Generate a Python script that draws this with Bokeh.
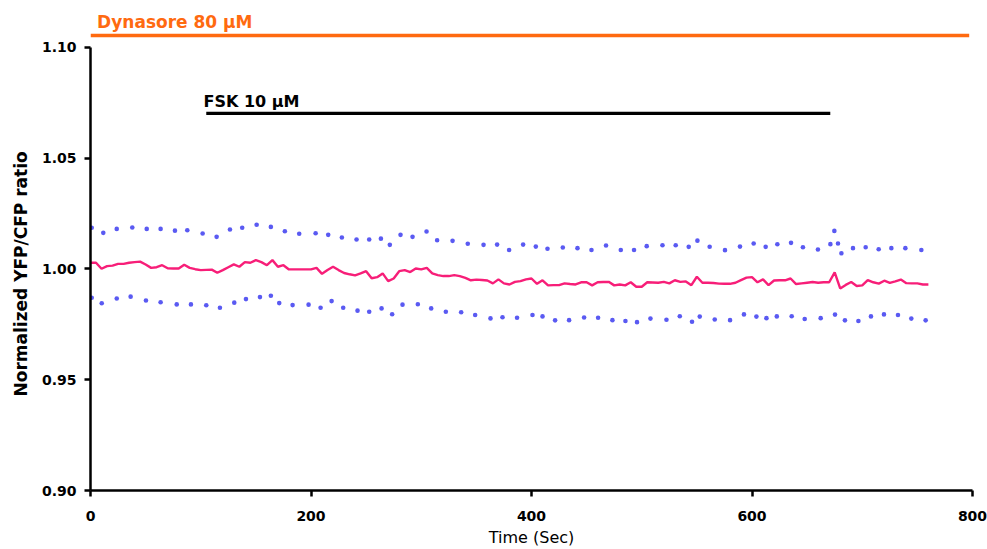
from bokeh.plotting import figure
from bokeh.models import Range1d, FixedTicker, PrintfTickFormatter, Label, Title
from bokeh.embed import file_html
from bokeh.resources import INLINE

# ---------------- data ----------------
time_s = [0, 5, 10, 15, 20, 25, 30, 35, 40, 45, 50, 55, 60, 65, 70, 75, 80, 85, 90, 95,
          100, 105, 110, 115, 120, 125, 130, 135, 140, 145, 150, 155, 160, 165, 170, 175, 180, 185, 190, 195,
          200, 205, 210, 215, 220, 225, 230, 235, 240, 245, 250, 255, 260, 265, 270, 275, 280, 285, 290, 295,
          300, 305, 310, 315, 320, 325, 330, 335, 340, 345, 350, 355, 360, 365, 370, 375, 380, 385, 390, 395,
          400, 405, 410, 415, 420, 425, 430, 435, 440, 445, 450, 455, 460, 465, 470, 475, 480, 485, 490, 495,
          500, 505, 510, 515, 520, 525, 530, 535, 540, 545, 550, 555, 560, 565, 570, 575, 580, 585, 590, 595,
          600, 605, 610, 615, 620, 625, 630, 635, 640, 645, 650, 655, 660, 665, 670, 675, 680, 685, 690, 695,
          700, 705, 710, 715, 720, 725, 730, 735, 740, 745, 750, 755, 760]

mean_ratio = [1.0028, 1.0028, 1.0001, 1.0013, 1.0015, 1.0023, 1.0023, 1.0028, 1.0031, 1.0033,
              1.0020, 1.0005, 1.0008, 1.0017, 1.0003, 1.0002, 1.0002, 1.0019, 1.0005, 0.9999,
              0.9995, 0.9996, 0.9997, 0.9983, 0.9995, 1.0008, 1.0021, 1.0010, 1.0031, 1.0028,
              1.0040, 1.0031, 1.0017, 1.0040, 1.0010, 1.0017, 0.9998, 0.9998, 0.9998, 0.9998,
              0.9998, 1.0005, 0.9978, 0.9995, 1.0010, 0.9995, 0.9982, 0.9976, 0.9971, 0.9980,
              0.9990, 0.9958, 0.9963, 0.9980, 0.9945, 0.9957, 0.9990, 0.9995, 0.9986, 1.0002,
              0.9998, 1.0005, 0.9980, 0.9972, 0.9968, 0.9968, 0.9972, 0.9968, 0.9960, 0.9949,
              0.9952, 0.9950, 0.9948, 0.9935, 0.9953, 0.9935, 0.9930, 0.9942, 0.9945, 0.9953,
              0.9957, 0.9933, 0.9949, 0.9926, 0.9927, 0.9927, 0.9935, 0.9932, 0.9930, 0.9940,
              0.9940, 0.9926, 0.9940, 0.9941, 0.9942, 0.9926, 0.9930, 0.9926, 0.9940, 0.9920,
              0.9920, 0.9940, 0.9939, 0.9938, 0.9942, 0.9935, 0.9949, 0.9942, 0.9944, 0.9927,
              0.9965, 0.9938, 0.9938, 0.9937, 0.9934, 0.9933, 0.9933, 0.9938, 0.9950, 0.9961,
              0.9963, 0.9940, 0.9953, 0.9927, 0.9948, 0.9949, 0.9949, 0.9957, 0.9932, 0.9935,
              0.9938, 0.9941, 0.9938, 0.9940, 0.9940, 0.9985, 0.9912, 0.9928, 0.9941, 0.9923,
              0.9926, 0.9950, 0.9940, 0.9934, 0.9947, 0.9937, 0.9944, 0.9952, 0.9936, 0.9935,
              0.9935, 0.9930, 0.9930]

upper_t = [1.1, 11.6, 23.8, 37.9, 51.0, 63.6, 76.6, 87.8, 101.7, 114.4, 126.5, 137.6, 150.7,
           163.6, 176.3, 189.3, 204.2, 215.6, 228.0, 241.3, 252.8, 263.4, 271.5, 281.2, 292.1,
           304.8, 314.4, 328.4, 342.2, 356.5, 368.8, 379.7, 392.4, 403.9, 414.5, 428.4, 441.7,
           454.4, 467.6, 481.0, 493.0, 504.5, 518.8, 530.8, 542.6, 550.5, 561.6, 575.5, 589.1,
           601.5, 612.4, 623.0, 635.4, 646.2, 659.8, 671.1, 674.7, 678.0, 681.1, 691.6, 703.1,
           714.9, 726.4, 739.1, 753.6]
upper_v = [1.0186, 1.0163, 1.0181, 1.0187, 1.0181, 1.0181, 1.0173, 1.0175, 1.0160, 1.0145,
           1.0178, 1.0186, 1.0200, 1.0190, 1.0170, 1.0159, 1.0161, 1.0154, 1.0142, 1.0133,
           1.0133, 1.0137, 1.0109, 1.0154, 1.0145, 1.0169, 1.0130, 1.0127, 1.0114, 1.0109,
           1.0110, 1.0086, 1.0110, 1.0101, 1.0091, 1.0097, 1.0094, 1.0086, 1.0106, 1.0086,
           1.0086, 1.0103, 1.0107, 1.0107, 1.0100, 1.0128, 1.0100, 1.0085, 1.0101, 1.0115,
           1.0100, 1.0112, 1.0118, 1.0098, 1.0088, 1.0112, 1.0172, 1.0115, 1.0071, 1.0094,
           1.0098, 1.0089, 1.0094, 1.0094, 1.0086]

lower_t = [1.1, 10.2, 23.8, 36.4, 50.3, 63.6, 78.2, 91.1, 105.0, 117.4, 130.4, 141.0, 153.7,
           163.6, 171.2, 183.3, 197.8, 208.7, 218.7, 229.2, 242.2, 252.8, 264.0, 273.6, 283.0,
           296.9, 309.0, 322.3, 336.2, 348.9, 362.8, 373.7, 386.9, 400.9, 410.0, 421.4, 434.1,
           447.7, 460.4, 473.4, 485.2, 495.7, 507.9, 522.4, 534.5, 545.6, 552.6, 566.2, 580.1,
           592.7, 604.0, 613.1, 622.5, 636.0, 647.8, 662.3, 675.3, 684.3, 696.5, 707.9, 719.7,
           732.4, 744.5, 757.5]
lower_v = [0.9870, 0.9845, 0.9867, 0.9875, 0.9858, 0.9850, 0.9840, 0.9840, 0.9836, 0.9825,
           0.9848, 0.9864, 0.9873, 0.9879, 0.9846, 0.9837, 0.9839, 0.9825, 0.9855, 0.9825,
           0.9812, 0.9807, 0.9822, 0.9796, 0.9839, 0.9841, 0.9822, 0.9807, 0.9805, 0.9792,
           0.9777, 0.9782, 0.9780, 0.9792, 0.9786, 0.9768, 0.9769, 0.9781, 0.9780, 0.9769,
           0.9765, 0.9760, 0.9776, 0.9771, 0.9787, 0.9762, 0.9785, 0.9772, 0.9769, 0.9795,
           0.9785, 0.9778, 0.9786, 0.9787, 0.9774, 0.9778, 0.9794, 0.9768, 0.9765, 0.9786,
           0.9795, 0.9792, 0.9776, 0.9768]

x_ticks = [0, 200, 400, 600, 800]
y_ticks = [0.90, 0.95, 1.00, 1.05, 1.10]

# treatment periods (seconds)
dyn_label = "Dynasore 80 µM"
dyn_start, dyn_end = 0, 797
fsk_label = "FSK 10 µM"
fsk_start, fsk_end = 105, 671

# ---------------- styles ----------------
ORANGE = "#FF6A10"
PINK = "#F71E78"
BLUE = "#5A5AF2"
DYN_LEVEL = 1.1054
FSK_LEVEL = 1.0702

p = figure(width=987, height=549, output_backend="svg", toolbar_location=None,
           x_range=Range1d(0, 800), y_range=Range1d(0.90, 1.1212),
           min_border_left=90, min_border_right=15, min_border_top=0, min_border_bottom=58)
p.outline_line_color = None
p.grid.visible = False
p.background_fill_color = "white"

# data
p.line(time_s, mean_ratio, line_color=PINK, line_width=2.4)
p.scatter(upper_t, upper_v, size=4.6, fill_color=BLUE, line_color=None)
p.scatter(lower_t, lower_v, size=4.6, fill_color=BLUE, line_color=None)

# treatment bars
p.line([dyn_start, dyn_end], [DYN_LEVEL, DYN_LEVEL], line_color=ORANGE, line_width=3.3)
p.line([fsk_start, fsk_end], [FSK_LEVEL, FSK_LEVEL], line_color="black", line_width=3.3)

p.add_layout(Label(x=dyn_start + 6, y=1.1117, text=dyn_label, text_color=ORANGE,
                   text_font="DejaVu Sans", text_font_style="bold", text_font_size="17px",
                   text_baseline="alphabetic", text_align="left"))
p.add_layout(Label(x=fsk_start - 2.5, y=1.0755, text=fsk_label, text_color="black",
                   text_font="DejaVu Sans", text_font_style="bold", text_font_size="16px",
                   text_baseline="alphabetic", text_align="left"))

# y label (as a side title so it can be positioned along the axis)
ytitle = Title(text="Normalized YFP/CFP ratio", align="left", offset=94,
               vertical_align="middle",
               text_font="DejaVu Sans", text_font_style="bold", text_font_size="17px",
               text_color="black", standoff=13)
p.add_layout(ytitle, "left")

# axes
for ax in (p.xaxis[0], p.yaxis[0]):
    ax.axis_line_width = 2.5
    ax.axis_line_color = "black"
    ax.major_tick_line_width = 2.5
    ax.major_tick_line_color = "black"
    ax.minor_tick_line_color = None
    ax.major_tick_in = 0
    ax.major_tick_out = 6
    ax.major_label_text_font = "DejaVu Sans"
    ax.major_label_text_font_style = "bold"
    ax.major_label_text_font_size = "14px"
    ax.major_label_text_color = "black"

p.xaxis.ticker = FixedTicker(ticks=x_ticks)
p.xaxis.bounds = (0, 800)
p.xaxis.major_label_standoff = 14
p.xaxis.axis_label = "Time (Sec)"
p.xaxis.axis_label_text_font = "DejaVu Sans"
p.xaxis.axis_label_text_font_style = "normal"
p.xaxis.axis_label_text_font_size = "16px"
p.xaxis.axis_label_text_color = "black"
p.xaxis.axis_label_standoff = 4

p.yaxis.ticker = FixedTicker(ticks=y_ticks)
p.yaxis.bounds = (0.90, 1.10)
p.yaxis.formatter = PrintfTickFormatter(format="%.2f")
p.yaxis.major_label_standoff = 8

open("out.html", "w").write(file_html(p, INLINE))
